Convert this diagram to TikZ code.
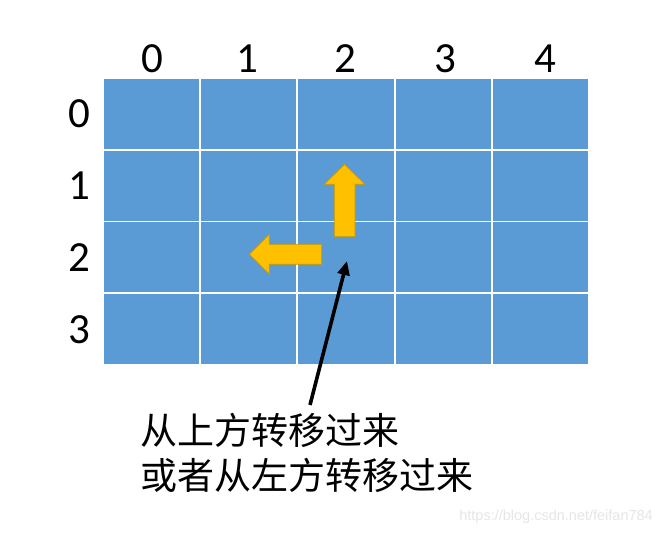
\documentclass[tikz,border=0pt]{standalone}
\usepackage{fontspec}
\setmainfont{Carlito}
\newfontfamily\cjk{Noto Sans CJK SC}
\newfontfamily\wmfont{Liberation Sans}
\usetikzlibrary{arrows.meta}
\definecolor{cellblue}{HTML}{5B9BD5}
\definecolor{arrowfill}{HTML}{FFC000}
\definecolor{arrowedge}{HTML}{C99700}
\definecolor{wmgray}{HTML}{E6E6E6}
\tikzset{
  cell/.style={rectangle, fill=cellblue, minimum width=95.2pt, minimum height=69.8pt, inner sep=0pt},
  idx/.style={font=\fontsize{43}{46}\selectfont, inner sep=0pt},
  blockarrow/.style={fill=arrowfill, draw=arrowedge, line width=0.8pt, line join=miter},
  pointer/.style={line width=3.6pt, -{Triangle[length=14pt,width=12pt]}},
  caption/.style={font=\cjk\fontsize{37}{45}\selectfont, align=left, inner sep=0pt, anchor=north west},
}
\begin{document}
\begin{tikzpicture}[x=1pt,y=-1pt]
\useasboundingbox (0,0) rectangle (664,537);
\fill[white] (0,0) rectangle (664,537);
% cells
\foreach \c in {0,...,4}{
  \foreach \r in {0,...,3}{
    \node[cell] (c\c r\r) at ({103+97.2*\c+48.6},{78+71.75*\r+35.9}) {};
  }
}
% column labels
\foreach \c/\x in {0/152,1/247,2/345,3/445,4/545}{
  \node[idx] (col\c) at (\x,59) {\c};
}
% row labels
\foreach \r in {0,...,3}{
  \node[idx] (row\r) at (79,{78+71.75*\r+36}) {\r};
}
% up arrow
\draw[blockarrow] (334.3,236.7) -- (334.3,184.3) -- (324.3,184.3) -- (344.5,164.3)
  -- (365,184.3) -- (355,184.3) -- (355,236.7) -- cycle;
% left arrow
\draw[blockarrow] (321.7,244.3) -- (269.3,244.3) -- (269.3,234.3) -- (249.3,254.3)
  -- (269.3,274.3) -- (269.3,264.3) -- (321.7,264.3) -- cycle;
% pointer
\coordinate (tail) at (310,405);
\coordinate (tip) at (347,261);
\draw[pointer] (tail) -- (tip);
% caption
\node[caption] (cap) at (140,413) {从上方转移过来\\或者从左方转移过来};
% watermark
\node[font=\wmfont\fontsize{14.5}{16}\selectfont, text=wmgray, anchor=east, inner sep=0pt] (wm) at (653,517) {https://blog.csdn.net/feifan784};
\end{tikzpicture}
\end{document}
